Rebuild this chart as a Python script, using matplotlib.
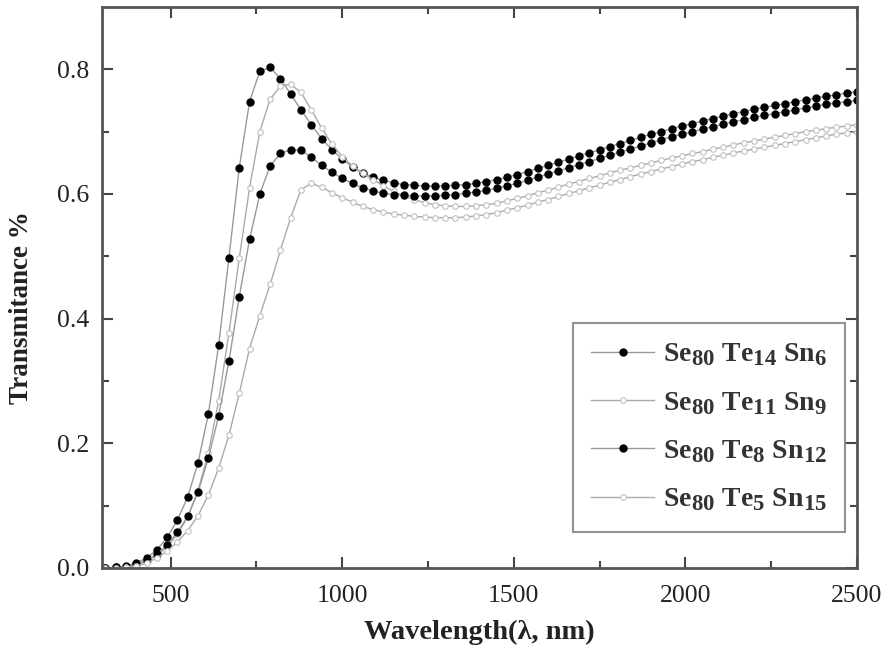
import numpy as np
import matplotlib
matplotlib.use("Agg")
import matplotlib.pyplot as plt
import matplotlib._mathtext as mathtext_internal

plt.rcParams['font.family'] = ['Liberation Serif', 'DejaVu Serif']
plt.rcParams['mathtext.fontset'] = 'custom'
plt.rcParams['mathtext.rm'] = 'Liberation Serif:bold'
plt.rcParams['mathtext.bf'] = 'Liberation Serif:bold'
# the legend subscripts are nearly full size in the original
mathtext_internal.SHRINK_FACTOR = 0.82

# wavelength grid of the measured points (nm)
wavelength = np.arange(310, 2501, 30)

# Se80 Te14 Sn6
t_te14 = [0.000, 0.001, 0.003, 0.008, 0.016, 0.029, 0.049, 0.077, 0.114, 0.169,
          0.247, 0.357, 0.498, 0.642, 0.748, 0.797, 0.803, 0.785, 0.760, 0.735,
          0.711, 0.689, 0.671, 0.656, 0.643, 0.633, 0.627, 0.622, 0.618, 0.615,
          0.614, 0.613, 0.613, 0.613, 0.614, 0.615, 0.617, 0.620, 0.623, 0.627,
          0.631, 0.636, 0.641, 0.646, 0.651, 0.656, 0.661, 0.666, 0.671, 0.676,
          0.681, 0.686, 0.691, 0.696, 0.700, 0.705, 0.709, 0.713, 0.717, 0.721,
          0.725, 0.729, 0.732, 0.736, 0.739, 0.742, 0.745, 0.748, 0.751, 0.754,
          0.757, 0.759, 0.762, 0.764]

# Se80 Te11 Sn9
t_te11 = [0.000, 0.000, 0.002, 0.005, 0.011, 0.020, 0.034, 0.054, 0.082, 0.124,
          0.185, 0.268, 0.377, 0.497, 0.610, 0.700, 0.752, 0.773, 0.776, 0.763,
          0.735, 0.706, 0.680, 0.660, 0.645, 0.633, 0.623, 0.613, 0.604, 0.597,
          0.591, 0.586, 0.583, 0.581, 0.580, 0.580, 0.581, 0.583, 0.585, 0.589,
          0.593, 0.597, 0.602, 0.606, 0.611, 0.616, 0.620, 0.625, 0.629, 0.634,
          0.638, 0.642, 0.646, 0.650, 0.654, 0.658, 0.661, 0.665, 0.668, 0.672,
          0.675, 0.679, 0.682, 0.685, 0.688, 0.691, 0.694, 0.697, 0.700, 0.702,
          0.705, 0.707, 0.709, 0.711]

# Se80 Te8 Sn12
t_te8 = [0.000, 0.001, 0.002, 0.006, 0.012, 0.022, 0.037, 0.057, 0.083, 0.122,
         0.176, 0.244, 0.332, 0.435, 0.527, 0.600, 0.645, 0.665, 0.671, 0.670,
         0.659, 0.646, 0.635, 0.625, 0.617, 0.610, 0.605, 0.601, 0.599, 0.598,
         0.597, 0.597, 0.597, 0.598, 0.599, 0.601, 0.603, 0.606, 0.609, 0.613,
         0.617, 0.622, 0.627, 0.632, 0.637, 0.642, 0.647, 0.652, 0.657, 0.662,
         0.667, 0.672, 0.677, 0.682, 0.687, 0.692, 0.696, 0.700, 0.704, 0.708,
         0.712, 0.716, 0.719, 0.723, 0.726, 0.729, 0.732, 0.735, 0.738, 0.741,
         0.744, 0.746, 0.748, 0.750]

# Se80 Te5 Sn15
t_te5 = [0.000, 0.000, 0.001, 0.003, 0.008, 0.016, 0.027, 0.042, 0.060, 0.084,
         0.117, 0.160, 0.213, 0.280, 0.352, 0.405, 0.455, 0.510, 0.562, 0.607,
         0.617, 0.611, 0.602, 0.594, 0.587, 0.580, 0.575, 0.571, 0.568, 0.566,
         0.564, 0.563, 0.562, 0.562, 0.562, 0.563, 0.565, 0.567, 0.570, 0.574,
         0.578, 0.582, 0.587, 0.591, 0.596, 0.601, 0.605, 0.610, 0.614, 0.619,
         0.623, 0.628, 0.632, 0.636, 0.640, 0.644, 0.648, 0.652, 0.655, 0.659,
         0.662, 0.666, 0.669, 0.672, 0.675, 0.678, 0.681, 0.684, 0.687, 0.690,
         0.693, 0.696, 0.698, 0.700]

labels = [r'Se$_{80}$ Te$_{14}$ Sn$_{6}$',
          r'Se$_{80}$ Te$_{11}$ Sn$_{9}$',
          r'Se$_{80}$ Te$_{8}$ Sn$_{12}$',
          r'Se$_{80}$ Te$_{5}$ Sn$_{15}$']

fig = plt.figure(figsize=(8.89, 6.48), dpi=100)
ax = fig.add_axes([0.1147, 0.1235, 0.8493, 0.8657])

ax.plot(wavelength, t_te14, color='#999999', lw=1.0, marker='o', ms=5,
        mfc='black', mec='black', label=labels[0])
ax.plot(wavelength, t_te11, color='#aaaaaa', lw=1.0, marker='o', ms=4,
        mfc='white', mec='#c0c0c0', mew=0.8, label=labels[1])
ax.plot(wavelength, t_te8, color='#999999', lw=1.0, marker='o', ms=5,
        mfc='black', mec='black', label=labels[2])
ax.plot(wavelength, t_te5, color='#aaaaaa', lw=1.0, marker='o', ms=4,
        mfc='white', mec='#c0c0c0', mew=0.8, label=labels[3])

ax.set_xlim(300, 2500)
ax.set_ylim(0, 0.9)
ax.set_xticks([500, 1000, 1500, 2000, 2500])
ax.set_xticks([750, 1250, 1750, 2250], minor=True)
ax.set_yticks([0.0, 0.2, 0.4, 0.6, 0.8])
ax.set_yticks([0.1, 0.3, 0.5, 0.7], minor=True)
ax.yaxis.set_major_formatter(matplotlib.ticker.FormatStrFormatter('%.1f'))

ax.tick_params(which='both', direction='in', top=True, right=True,
               colors='#444444', labelcolor='#222222', labelsize=18.5, width=1.5)
ax.tick_params(which='major', length=8)
ax.tick_params(axis='x', which='major', pad=12)
ax.tick_params(axis='y', which='major', pad=9)
ax.tick_params(which='minor', length=5)
for s in ax.spines.values():
    s.set_color('#555555')
    s.set_linewidth(2)

ax.set_xlabel('Wavelength(λ, nm)', fontsize=20.5, fontweight='bold',
              color='#222222')
ax.xaxis.set_label_coords(0.5, -0.092)
ax.set_ylabel('Transmitance %', fontsize=19.5, fontweight='bold', color='#222222')
ax.yaxis.set_label_coords(-0.09, 0.465)

leg = ax.legend(loc='lower right', bbox_to_anchor=(0.984, 0.065), borderaxespad=0,
                handlelength=2.3, handletextpad=0.3, labelspacing=0.78,
                fancybox=False, prop={'weight': 'bold', 'size': 20},
                borderpad=0.65)
leg.get_frame().set_edgecolor('#777777')
leg.get_frame().set_linewidth(1.5)
for t in leg.get_texts():
    t.set_color('#333333')

fig.savefig('out.png', dpi=100)
